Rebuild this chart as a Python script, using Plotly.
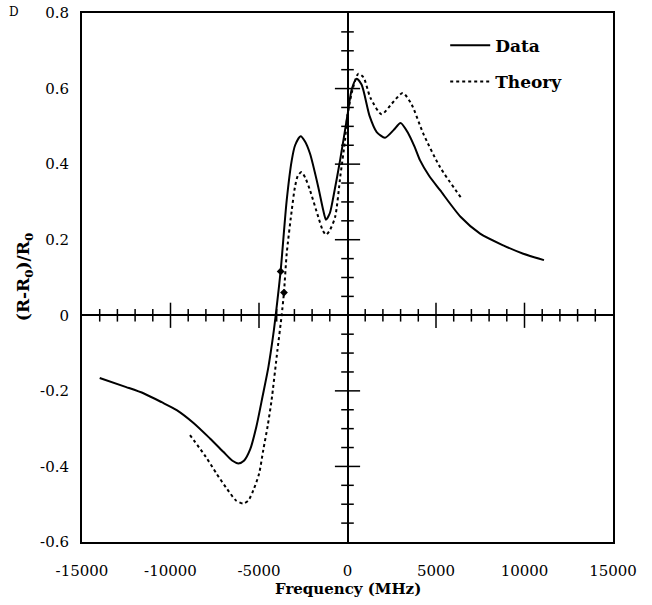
import plotly.graph_objects as go

# ---- data ----
data_x = [-14000, -12500, -11500, -10500, -9650, -8700, -7770, -7000, -6500, -6170,
          -5850, -5500, -5150, -4800, -4470, -4190, -4057, -3780, -3435,
          -3150, -2960, -2650, -2400, -2120, -1650, -1370, -1215, -1000, -800,
          -420, 0, 250, 520, 800, 1250, 1650, 2120, 2600, 3000,
          3450, 3800, 4100, 4600, 5230, 6400, 7490, 8800, 9930, 11100]
data_y = [-0.166, -0.19, -0.207, -0.23, -0.251, -0.285, -0.326, -0.362, -0.385, -0.392,
          -0.385, -0.355, -0.295, -0.215, -0.137, -0.05, 0.0, 0.116, 0.304,
          0.41, 0.45, 0.474, 0.46, 0.428, 0.339, 0.278, 0.253, 0.27, 0.313,
          0.41, 0.53, 0.6, 0.626, 0.61, 0.527, 0.485, 0.47, 0.49, 0.509,
          0.48, 0.445, 0.41, 0.37, 0.331, 0.26, 0.216, 0.185, 0.163, 0.146]

theory_x = [-8900, -8000, -7400, -6800, -6300, -5900, -5600, -5320, -5000, -4760,
            -4500, -4290, -3960, -3720, -3590, -3435, -3150, -2970, -2800, -2590,
            -2350, -2120, -1650, -1400, -1215, -1000, -700, -400, -140, 0,
            300, 610, 900, 1300, 1930, 2500, 3120, 3600, 4280, 5230, 6450]
theory_y = [-0.317, -0.375, -0.419, -0.46, -0.49, -0.498, -0.49, -0.463, -0.42, -0.357,
            -0.29, -0.225, -0.093, 0.0, 0.06, 0.163, 0.278, 0.339, 0.37, 0.379,
            0.36, 0.331, 0.26, 0.225, 0.213, 0.225, 0.26, 0.37, 0.463, 0.53,
            0.6, 0.639, 0.63, 0.575, 0.532, 0.56, 0.588, 0.56, 0.481, 0.392, 0.309]

marker_x = [-3776, -3588]
marker_y = [0.116, 0.06]

x_tick_vals = [-15000, -10000, -5000, 0, 5000, 10000, 15000]
x_tick_text = ["-15000", "-10000", "-5000", "0", "5000", "10000", "15000"]
y_tick_vals = [-0.6, -0.4, -0.2, 0, 0.2, 0.4, 0.6, 0.8]
y_tick_text = ["-0.6", "-0.4", "-0.2", "0", "0.2", "0.4", "0.6", "0.8"]

x_title = "<b>Frequency (MHz)</b>"
y_title = "<b>(R-R<sub>0</sub>)/R<sub>0</sub></b>"
panel_label = "D"

# ticks along the central axes
xminor = [v for v in range(-14000, 15000, 1000) if v % 5000 != 0]
xmajor = [v for v in range(-10000, 15000, 5000) if v != 0]
yminor = [round(v * 0.05, 2) for v in range(-11, 16) if v % 4 != 0]
ymajor = [-0.4, -0.2, 0.2, 0.4, 0.6]

SERIF = "DejaVu Serif"

fig = go.Figure()

tick_line = dict(color="black", width=1.5)
fig.add_trace(go.Scatter(x=xminor, y=[0] * len(xminor), mode="markers", showlegend=False,
                         hoverinfo="skip",
                         marker=dict(symbol="line-ns", size=9, line=tick_line)))
fig.add_trace(go.Scatter(x=xmajor, y=[0] * len(xmajor), mode="markers", showlegend=False,
                         hoverinfo="skip",
                         marker=dict(symbol="line-ns", size=18, line=tick_line)))
fig.add_trace(go.Scatter(x=[0] * len(yminor), y=yminor, mode="markers", showlegend=False,
                         hoverinfo="skip",
                         marker=dict(symbol="line-ew", size=9, line=tick_line)))
fig.add_trace(go.Scatter(x=[0] * len(ymajor), y=ymajor, mode="markers", showlegend=False,
                         hoverinfo="skip",
                         marker=dict(symbol="line-ew", size=18, line=tick_line)))

fig.add_trace(go.Scatter(x=data_x, y=data_y, mode="lines", name="<b>Data</b>",
                         legendgroup="a",
                         line=dict(color="black", width=2, shape="spline", smoothing=0.7)))
fig.add_trace(go.Scatter(x=theory_x, y=theory_y, mode="lines", name="<b>Theory</b>",
                         legendgroup="b",
                         line=dict(color="black", width=2, dash="dot", shape="spline", smoothing=0.7)))
fig.add_trace(go.Scatter(x=marker_x, y=marker_y, mode="markers", showlegend=False,
                         marker=dict(symbol="diamond", size=6, color="black")))

axis_common = dict(showgrid=False, showline=True, linecolor="black", linewidth=2,
                   mirror=True, ticks="", zeroline=True, zerolinecolor="black",
                   zerolinewidth=2, automargin=False,
                   tickfont=dict(family=SERIF, size=15, color="black"))

fig.update_layout(
    width=652, height=605,
    margin=dict(l=82, r=39, t=13, b=63),
    plot_bgcolor="white", paper_bgcolor="white",
    xaxis=dict(range=[-15000, 15000], tickvals=x_tick_vals, ticktext=x_tick_text,
               ticklabelstandoff=14, **axis_common),
    yaxis=dict(range=[-0.6, 0.8], tickvals=y_tick_vals, ticktext=y_tick_text,
               ticklabelstandoff=8, **axis_common),
    legend=dict(x=0.684, y=0.972, xanchor="left", yanchor="top",
                bgcolor="rgba(0,0,0,0)", traceorder="grouped", tracegroupgap=11,
                font=dict(family=SERIF, size=17, color="black"),
                itemwidth=40),
    showlegend=True,
)

fig.add_annotation(text=x_title, xref="paper", yref="paper", x=0.5, y=-0.088,
                   xanchor="center", yanchor="middle", showarrow=False,
                   font=dict(family=SERIF, size=15, color="black"))
fig.add_annotation(text=y_title, xref="paper", yref="paper", x=-0.108, y=0.5,
                   xanchor="center", yanchor="middle", showarrow=False, textangle=-90,
                   font=dict(family=SERIF, size=17, color="black"))
fig.add_annotation(text=panel_label, xref="paper", yref="paper", x=-0.128, y=1.002,
                   xanchor="center", yanchor="middle", showarrow=False,
                   font=dict(family=SERIF, size=12, color="black"))

fig.write_html("out.html", post_script="document.body.style.margin='0';",
               config={"displayModeBar": False})
